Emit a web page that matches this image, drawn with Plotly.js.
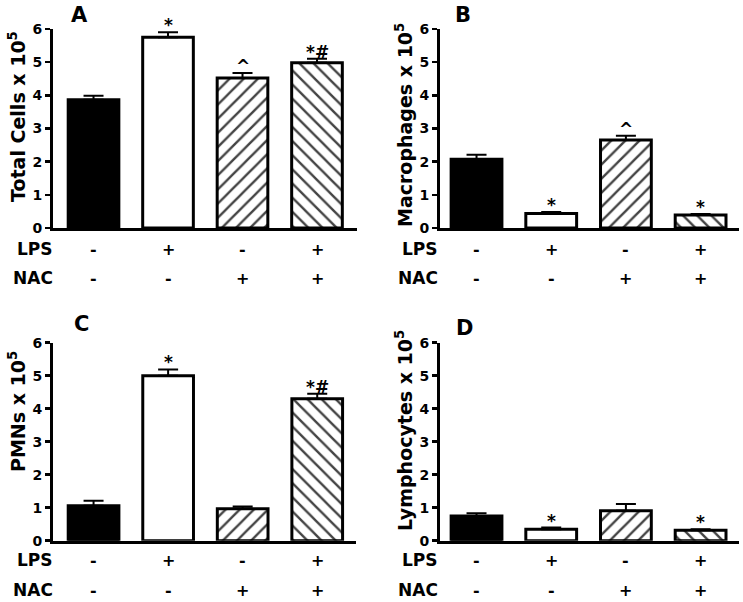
<!DOCTYPE html>
<html>
<head>
<meta charset="utf-8">
<script src="https://cdn.plot.ly/plotly-3.0.1.min.js"></script>
<style>html,body{margin:0;padding:0;background:#fff}#chart{width:743px;height:602px}</style>
</head>
<body>
<div id="chart"></div>
<script>
// ---- data ----
const groups = ['Control', 'LPS', 'NAC', 'LPS+NAC'];
const lpsRow = ['-', '+', '-', '+'];
const nacRow = ['-', '-', '+', '+'];

const totalCells = [3.87, 5.75, 4.52, 4.98];
const totalCellsErr = [0.12, 0.15, 0.15, 0.12];
const totalCellsSig = ['', '*', '^', '*#'];

const macrophages = [2.07, 0.44, 2.65, 0.39];
const macrophagesErr = [0.14, 0.04, 0.13, 0.03];
const macrophagesSig = ['', '*', '^', '*'];

const pmns = [1.06, 5.0, 0.97, 4.3];
const pmnsErr = [0.15, 0.19, 0.07, 0.15];
const pmnsSig = ['', '*', '', '*#'];

const lymphocytes = [0.75, 0.35, 0.91, 0.32];
const lymphocytesErr = [0.08, 0.05, 0.2, 0.03];
const lymphocytesSig = ['', '*', '', '*'];

const panelLetters = ['A', 'B', 'C', 'D'];
const yTitles = ['Total Cells x 10<sup>5</sup>', 'Macrophages x 10<sup>5</sup>', 'PMNs x 10<sup>5</sup>', 'Lymphocytes x 10<sup>5</sup>'];
const yTicks = [0, 1, 2, 3, 4, 5, 6];

// ---- styling / layout ----
const W = 743, H = 602;
const FONT = 'DejaVu Sans, Liberation Sans, Arial, sans-serif';
const px = v => v / W;
const py = v => 1 - v / H;

const series = [
  {y: totalCells, e: totalCellsErr, sig: totalCellsSig},
  {y: macrophages, e: macrophagesErr, sig: macrophagesSig},
  {y: pmns, e: pmnsErr, sig: pmnsSig},
  {y: lymphocytes, e: lymphocytesErr, sig: lymphocytesSig}
];

// pixel geometry of panels
const panels = [
  {x0: 53, x1: 357, top: 29, bot: 228, xr: [-0.544, 3.537], letter: [79, 15], title: [17, 117], lps: 249, nac: 278, labRight: 55},
  {x0: 440, x1: 739, top: 29, bot: 228, xr: [-0.489, 3.514], letter: [463, 15], title: [404, 125], lps: 249, nac: 278, labRight: 440},
  {x0: 53, x1: 356, top: 342.7, bot: 540.7, xr: [-0.544, 3.52], letter: [81, 324], title: [17, 412], lps: 560, nac: 590, labRight: 55},
  {x0: 440, x1: 739, top: 342.7, bot: 540.7, xr: [-0.489, 3.514], letter: [464, 328], title: [404, 431], lps: 560, nac: 590, labRight: 440}
];

const traces = [];
const annotations = [];
const layout = {
  width: W, height: H,
  margin: {l: 0, r: 0, t: 0, b: 0},
  paper_bgcolor: '#fff', plot_bgcolor: '#fff',
  showlegend: false,
  font: {family: FONT, color: '#000'}
};

function note(o) {
  annotations.push(Object.assign({showarrow: false, xanchor: 'center', yanchor: 'middle'}, o));
}

panels.forEach((p, i) => {
  const n = i + 1;
  const xa = n === 1 ? 'x' : 'x' + n;
  const ya = n === 1 ? 'y' : 'y' + n;
  const s = series[i];
  traces.push({
    type: 'bar',
    x: groups, y: s.y,
    xaxis: xa, yaxis: ya,
    width: 0.68,
    marker: {
      color: ['#000', '#fff', '#fff', '#fff'],
      line: {color: '#000', width: 3},
      pattern: {shape: ['', '', '/', '\\'], fgcolor: '#000', fgopacity: 1, bgcolor: '#fff', size: 10, solidity: 0.24, fillmode: 'overlay'}
    },
    error_y: {type: 'data', array: s.e, arrayminus: s.e.map(() => 0), symmetric: false, color: '#000', thickness: 2, width: 10},
    hoverinfo: 'skip'
  });
  layout['xaxis' + (n === 1 ? '' : n)] = {
    domain: [px(p.x0), px(p.x1)], anchor: ya,
    range: p.xr, type: 'category',
    showline: true, linecolor: '#000', linewidth: 3,
    showgrid: false, zeroline: false, showticklabels: false, ticks: ''
  };
  layout['yaxis' + (n === 1 ? '' : n)] = {
    domain: [py(p.bot), py(p.top)], anchor: xa,
    range: [0, 6], tickvals: yTicks,
    showline: true, linecolor: '#000', linewidth: 3,
    showgrid: false, zeroline: false,
    ticks: 'outside', ticklen: 5, tickwidth: 2.5, tickcolor: '#000',
    tickfont: {family: FONT, size: 14, color: '#000', weight: 'bold'}
  };
  // significance marks
  s.sig.forEach((t, k) => {
    if (!t) return;
    note({xref: xa, yref: ya, x: groups[k], y: s.y[k] + s.e[k], text: '<b>' + t + '</b>',
      yanchor: 'bottom', yshift: -5, font: {family: FONT, size: 17, color: '#000'}});
  });
  // LPS / NAC rows
  lpsRow.forEach((t, k) => note({xref: xa, yref: 'paper', x: groups[k], y: py(p.lps), text: '<b>' + t + '</b>',
    font: {family: FONT, size: 16, color: '#000'}}));
  nacRow.forEach((t, k) => note({xref: xa, yref: 'paper', x: groups[k], y: py(p.nac), text: '<b>' + t + '</b>',
    font: {family: FONT, size: 16, color: '#000'}}));
  note({xref: 'paper', yref: 'paper', x: px(p.labRight), y: py(p.lps), xanchor: 'right', text: '<b>LPS</b>',
    font: {family: FONT, size: 17, color: '#000'}});
  note({xref: 'paper', yref: 'paper', x: px(p.labRight), y: py(p.nac), xanchor: 'right', text: '<b>NAC</b>',
    font: {family: FONT, size: 17, color: '#000'}});
  // panel letter
  note({xref: 'paper', yref: 'paper', x: px(p.letter[0]), y: py(p.letter[1]), text: '<b>' + panelLetters[i] + '</b>',
    font: {family: FONT, size: 21, color: '#000'}});
  // y title
  note({xref: 'paper', yref: 'paper', x: px(p.title[0]), y: py(p.title[1]), textangle: -90, text: '<b>' + yTitles[i] + '</b>',
    font: {family: FONT, size: 19, color: '#000'}});
});
layout.annotations = annotations;

Plotly.newPlot('chart', traces, layout, {staticPlot: true, displayModeBar: false});
</script>
</body>
</html>
